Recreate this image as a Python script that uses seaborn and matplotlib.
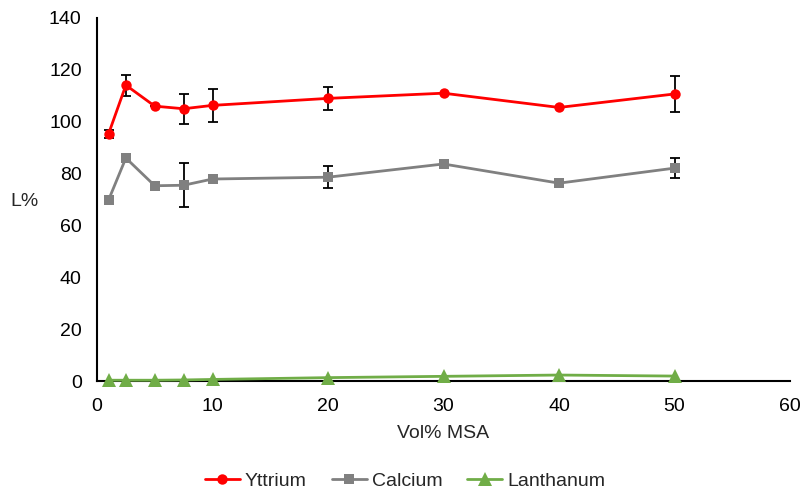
import matplotlib
matplotlib.use("Agg")
import matplotlib.pyplot as plt
import seaborn as sns
import pandas as pd
import numpy as np

vol = [1, 2.5, 5, 7.5, 10, 20, 30, 40, 50]
yttrium = [95.3, 114.1, 106.0, 105.0, 106.3, 109.0, 111.0, 105.5, 110.7]
yttrium_err = [1.5, 4.0, 0, 5.7, 6.5, 4.3, 0, 0, 7.0]
calcium = [69.8, 86.0, 75.3, 75.5, 77.9, 78.6, 83.7, 76.3, 82.1]
calcium_err = [0, 0, 0, 8.5, 1.5, 4.3, 0, 0, 3.9]
lanthanum = [0.3, 0.3, 0.3, 0.4, 0.6, 1.3, 1.8, 2.3, 1.9]

series = ["Yttrium", "Calcium", "Lanthanum"]
colors = ["#ff0000", "#808080", "#70ad47"]
markers = ["o", "s", "^"]

df = pd.DataFrame({
    "vol": vol * 3,
    "L": yttrium + calcium + lanthanum,
    "metal": [s for s in series for _ in vol],
})

sns.set_style("white")
plt.rcParams["font.family"] = ["Liberation Sans", "DejaVu Sans"]

fig = plt.figure(figsize=(8.01, 4.91), dpi=100)
ax = fig.add_axes([97/801, 1-381/491, (790-97)/801, (381-18)/491])

ax.errorbar(vol, yttrium, yerr=yttrium_err, fmt="none", ecolor="black", elinewidth=1.3, capsize=3.5, capthick=1.3, zorder=1)
ax.errorbar(vol, calcium, yerr=calcium_err, fmt="none", ecolor="black", elinewidth=1.3, capsize=3.5, capthick=1.3, zorder=1)

sns.lineplot(data=df, x="vol", y="L", hue="metal", style="metal",
             palette=dict(zip(series, colors)), markers=dict(zip(series, markers)),
             dashes=False, markersize=7.5, markeredgewidth=0, linewidth=2,
             ax=ax, zorder=3, clip_on=False)
for ln in ax.lines:
    if ln.get_marker() == "^":
        ln.set_markersize(10)

ax.set_xlim(0, 60)
ax.set_ylim(0, 140)
ax.set_xticks(range(0, 61, 10))
ax.set_yticks(range(0, 141, 20))
for s in ["top", "right"]:
    ax.spines[s].set_visible(False)
for s in ["left", "bottom"]:
    ax.spines[s].set_color("black")
    ax.spines[s].set_linewidth(1.5)
ax.tick_params(axis="y", direction="in", length=6, width=1.5, labelsize=14, colors="black", pad=11)
ax.tick_params(axis="x", direction="in", length=6, width=1.5, labelsize=14, colors="black", pad=12)
ax.set_xlabel("Vol% MSA", fontsize=14, va="center")
ax.xaxis.set_label_coords(0.5, (381-433)/363)
ax.set_ylabel("L%", fontsize=14, rotation=0, ha="center", va="center")
ax.yaxis.set_label_coords((25-97)/693, (381-202)/363)

h, l = ax.get_legend_handles_labels()
for hh in h:
    if hh.get_marker() == "^":
        hh.set_markersize(10)
ax.legend(h, l, loc="center", bbox_to_anchor=(405/801, 1-481/491), bbox_transform=fig.transFigure,
          ncol=3, frameon=False, fontsize=14, handlelength=1.8, columnspacing=1.3, handletextpad=0.25)

fig.savefig("out.png", dpi=100)
